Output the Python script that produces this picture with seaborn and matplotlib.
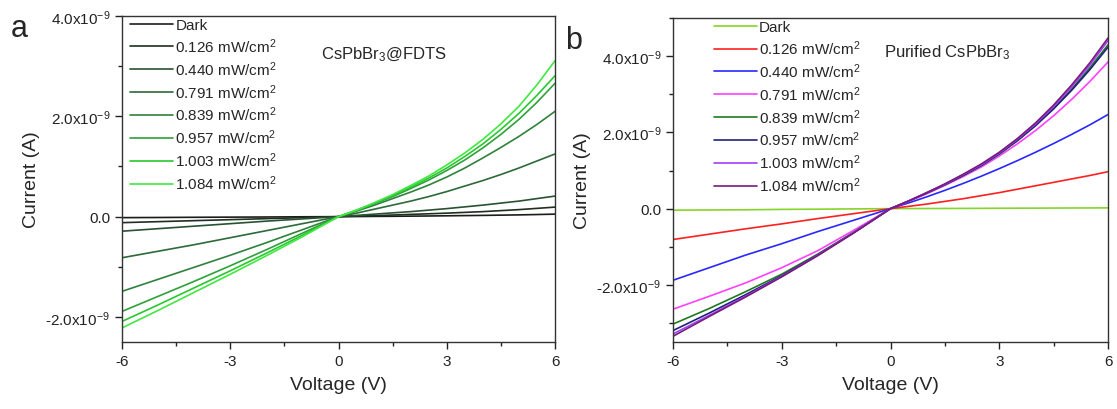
import numpy as np
import pandas as pd
import matplotlib
matplotlib.use("Agg")
import matplotlib.pyplot as plt
from matplotlib.ticker import FuncFormatter, MultipleLocator
import seaborn as sns

# ---------------- data (current in units of 1e-9 A) ----------------
voltage = [-6, -5, -4, -3, -2, -1, 0, 0.5, 1, 1.5, 2, 2.5, 3, 3.5, 4, 4.5, 5, 5.5, 6]

labels = ["Dark", "0.126 mW/cm$^2$", "0.440 mW/cm$^2$", "0.791 mW/cm$^2$",
          "0.839 mW/cm$^2$", "0.957 mW/cm$^2$", "1.003 mW/cm$^2$", "1.084 mW/cm$^2$"]

# Panel a: CsPbBr3@FDTS
a_dark = [-0.02, -0.017, -0.013, -0.01, -0.007, -0.003, 0,
          0.002, 0.005, 0.007, 0.01, 0.013, 0.017, 0.021, 0.025, 0.03, 0.035, 0.042, 0.05]
a_0126 = [-0.12, -0.10, -0.08, -0.06, -0.04, -0.02, 0,
          0.01, 0.02, 0.032, 0.045, 0.057, 0.07, 0.085, 0.10, 0.12, 0.14, 0.165, 0.19]
a_0440 = [-0.29, -0.24, -0.19, -0.14, -0.09, -0.045, 0,
          0.025, 0.05, 0.075, 0.10, 0.13, 0.16, 0.195, 0.23, 0.27, 0.31, 0.36, 0.41]
a_0791 = [-0.82, -0.69, -0.56, -0.42, -0.28, -0.14, 0,
          0.07, 0.15, 0.23, 0.31, 0.40, 0.50, 0.61, 0.72, 0.84, 0.97, 1.11, 1.25]
a_0839 = [-1.49, -1.25, -1.01, -0.77, -0.52, -0.26, 0,
          0.11, 0.23, 0.36, 0.49, 0.63, 0.79, 0.97, 1.17, 1.38, 1.60, 1.84, 2.10]
a_0957 = [-1.89, -1.59, -1.29, -0.98, -0.66, -0.33, 0,
          0.12, 0.26, 0.40, 0.56, 0.73, 0.92, 1.13, 1.37, 1.64, 1.94, 2.28, 2.66]
a_1003 = [-2.09, -1.76, -1.42, -1.08, -0.73, -0.37, 0,
          0.13, 0.27, 0.42, 0.59, 0.77, 0.97, 1.20, 1.45, 1.74, 2.06, 2.42, 2.81]
a_1084 = [-2.22, -1.87, -1.51, -1.15, -0.78, -0.40, 0,
          0.13, 0.28, 0.44, 0.62, 0.81, 1.03, 1.27, 1.54, 1.85, 2.20, 2.63, 3.11]

# Panel b: Purified CsPbBr3
b_dark = [-0.04, -0.035, -0.03, -0.02, -0.015, -0.007, 0,
          0.002, 0.003, 0.005, 0.006, 0.008, 0.01, 0.012, 0.013, 0.015, 0.017, 0.018, 0.02]
b_0126 = [-0.81, -0.67, -0.53, -0.40, -0.26, -0.13, 0,
          0.06, 0.12, 0.19, 0.26, 0.34, 0.42, 0.51, 0.60, 0.69, 0.78, 0.87, 0.97]
b_0440 = [-1.88, -1.55, -1.22, -0.92, -0.60, -0.30, 0,
          0.15, 0.31, 0.48, 0.66, 0.85, 1.05, 1.26, 1.48, 1.71, 1.95, 2.20, 2.47]
b_0791 = [-2.64, -2.30, -1.95, -1.55, -1.10, -0.56, 0,
          0.19, 0.39, 0.61, 0.84, 1.09, 1.38, 1.70, 2.05, 2.44, 2.87, 3.34, 3.85]
b_0839 = [-3.03, -2.62, -2.18, -1.72, -1.19, -0.61, 0,
          0.20, 0.41, 0.63, 0.87, 1.13, 1.43, 1.78, 2.18, 2.63, 3.14, 3.70, 4.30]
b_0957 = [-3.20, -2.74, -2.26, -1.76, -1.21, -0.62, 0,
          0.20, 0.41, 0.63, 0.87, 1.13, 1.44, 1.79, 2.18, 2.62, 3.11, 3.65, 4.24]
b_1003 = [-3.29, -2.80, -2.30, -1.78, -1.22, -0.62, 0,
          0.20, 0.42, 0.64, 0.89, 1.15, 1.46, 1.82, 2.22, 2.68, 3.20, 3.77, 4.41]
b_1084 = [-3.35, -2.83, -2.32, -1.79, -1.23, -0.63, 0,
          0.20, 0.42, 0.65, 0.90, 1.17, 1.48, 1.84, 2.25, 2.72, 3.25, 3.83, 4.48]

a_series = [a_dark, a_0126, a_0440, a_0791, a_0839, a_0957, a_1003, a_1084]
b_series = [b_dark, b_0126, b_0440, b_0791, b_0839, b_0957, b_1003, b_1084]

a_colors = ["#1c1c1c", "#1f2f20", "#285232", "#2d6a3a", "#2f823c", "#2fa03a", "#28c82e", "#40e840"]
b_colors = ["#86d42a", "#ff2020", "#2828ff", "#ff40ff", "#1f7a1f", "#20207a", "#a040ff", "#7a1a7a"]


def to_df(series):
    rows = []
    for lab, ys in zip(labels, series):
        for v, y in zip(voltage, ys):
            rows.append({"V": v, "I": y, "label": lab})
    return pd.DataFrame(rows)


sns.set_theme(style="ticks")
plt.rcParams["font.family"] = ["Liberation Sans", "DejaVu Sans"]
plt.rcParams["mathtext.fontset"] = "custom"
plt.rcParams["mathtext.rm"] = "Liberation Sans"
plt.rcParams["mathtext.it"] = "Liberation Sans:italic"
plt.rcParams["axes.unicode_minus"] = False

fig = plt.figure(figsize=(11.17, 4.10), dpi=100)
ax_a = fig.add_axes([0.1092, 0.1634, 0.3877, 0.795])
ax_b = fig.add_axes([0.6025, 0.1634, 0.3895, 0.790])


def yfmt(val, pos):
    if abs(val) < 1e-9:
        return "0.0"
    return "%.1fx10$^{-9}$" % val


for ax, series, colors, ylim, title, tpos, anchor in [
    (ax_a, a_series, a_colors, (-2.5, 4.0), "CsPbBr$_3$@FDTS", (0.46, 0.885), (0.0, 1.02)),
    (ax_b, b_series, b_colors, (-3.5, 5.0), "Purified CsPbBr$_3$", (0.485, 0.895), (0.075, 1.02)),
]:
    df = to_df(series)
    sns.lineplot(data=df, x="V", y="I", hue="label", palette=colors,
                 estimator=None, sort=False, ax=ax, linewidth=1.2)
    ax.set_xlim(-6, 6)
    ax.set_ylim(*ylim)
    ax.xaxis.set_major_locator(MultipleLocator(3))
    ax.xaxis.set_minor_locator(MultipleLocator(1.5))
    ax.yaxis.set_major_locator(MultipleLocator(2))
    ax.yaxis.set_minor_locator(MultipleLocator(1))
    ax.yaxis.set_major_formatter(FuncFormatter(yfmt))
    ax.tick_params(which="major", direction="out", length=5, width=1, labelsize=11, colors="#222222")
    ax.tick_params(which="minor", direction="out", length=3, width=1, colors="#222222")
    for s in ax.spines.values():
        s.set_visible(True)
        s.set_linewidth(1.0)
        s.set_color("#333333")
    ax.set_xlabel("Voltage (V)", fontsize=14, labelpad=6)
    ax.set_ylabel("Current (A)", fontsize=14, labelpad=4)
    ax.text(tpos[0], tpos[1], title, transform=ax.transAxes, fontsize=12, ha="left", va="center")
    handles, labs = ax.get_legend_handles_labels()
    ax.legend(handles, labs, loc="upper left", frameon=False, fontsize=11,
              handlelength=2.8, handletextpad=0.15, labelspacing=0.28,
              borderaxespad=0.15, bbox_to_anchor=anchor)

fig.text(0.010, 0.93, "a", fontsize=22, ha="left", va="center")
fig.text(0.506, 0.90, "b", fontsize=22, ha="left", va="center")

fig.savefig("out.png", dpi=100, facecolor="white")
